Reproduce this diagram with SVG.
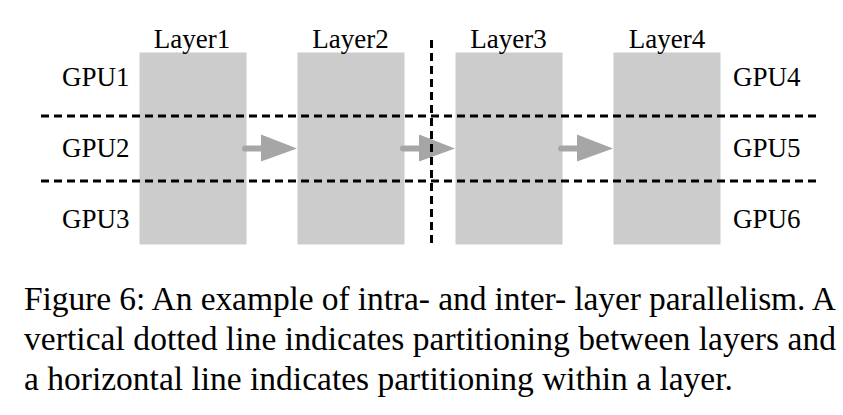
<svg xmlns="http://www.w3.org/2000/svg" width="843" height="415" viewBox="0 0 843 415">
<style>
.layer{fill:#cccccc}
.dash{stroke:#000;stroke-width:3;stroke-dasharray:8 5;fill:none}
.shaft{stroke:#a6a6a6;stroke-width:6;stroke-linecap:round;fill:none}
.head{fill:#a6a6a6}
</style>
<rect width="843" height="415" fill="#fff"/>
<g id="layer1"><rect class="layer" x="139.5" y="52.5" width="107" height="192"/><text font-family="Liberation Serif, serif" font-size="27" x="192" y="48" text-anchor="middle">Layer1</text></g>
<g id="layer2"><rect class="layer" x="297.5" y="52.5" width="107" height="192"/><text font-family="Liberation Serif, serif" font-size="27" x="350.5" y="48" text-anchor="middle">Layer2</text></g>
<g id="layer3"><rect class="layer" x="455.5" y="52.5" width="107" height="192"/><text font-family="Liberation Serif, serif" font-size="27" x="508.5" y="48" text-anchor="middle">Layer3</text></g>
<g id="layer4"><rect class="layer" x="613.5" y="52.5" width="107" height="192"/><text font-family="Liberation Serif, serif" font-size="27" x="667" y="48" text-anchor="middle">Layer4</text></g>
<g id="gpus">
<text font-family="Liberation Serif, serif" font-size="27" x="62" y="86">GPU1</text>
<text font-family="Liberation Serif, serif" font-size="27" x="62" y="157">GPU2</text>
<text font-family="Liberation Serif, serif" font-size="27" x="62" y="228">GPU3</text>
<text font-family="Liberation Serif, serif" font-size="27" x="733" y="86">GPU4</text>
<text font-family="Liberation Serif, serif" font-size="27" x="733" y="157">GPU5</text>
<text font-family="Liberation Serif, serif" font-size="27" x="733" y="228">GPU6</text>
</g>
<g id="connectors">
<line class="shaft" x1="245" y1="148.5" x2="263" y2="148.5"/><polygon class="head" points="261,134.5 297,148.5 261,161.5"/>
<line class="shaft" x1="403" y1="148.5" x2="421" y2="148.5"/><polygon class="head" points="419,134.5 455,148.5 419,161.5"/>
<line class="shaft" x1="561" y1="148.5" x2="579" y2="148.5"/><polygon class="head" points="577,134.5 613,148.5 577,161.5"/>
</g>
<g id="partitions">
<line class="dash" x1="41" y1="116" x2="820" y2="116"/>
<line class="dash" x1="41" y1="181" x2="820" y2="181"/>
<line class="dash" x1="431.5" y1="40" x2="431.5" y2="246"/>
</g>
<g id="caption">
<text font-family="Liberation Serif, serif" font-size="33.5" x="24" y="310" textLength="812" lengthAdjust="spacing">Figure 6: An example of intra- and inter- layer parallelism. A</text>
<text font-family="Liberation Serif, serif" font-size="33.5" x="24" y="350" textLength="812" lengthAdjust="spacing">vertical dotted line indicates partitioning between layers and</text>
<text font-family="Liberation Serif, serif" font-size="33.5" x="24" y="390">a horizontal line indicates partitioning within a layer.</text>
</g>
</svg>
